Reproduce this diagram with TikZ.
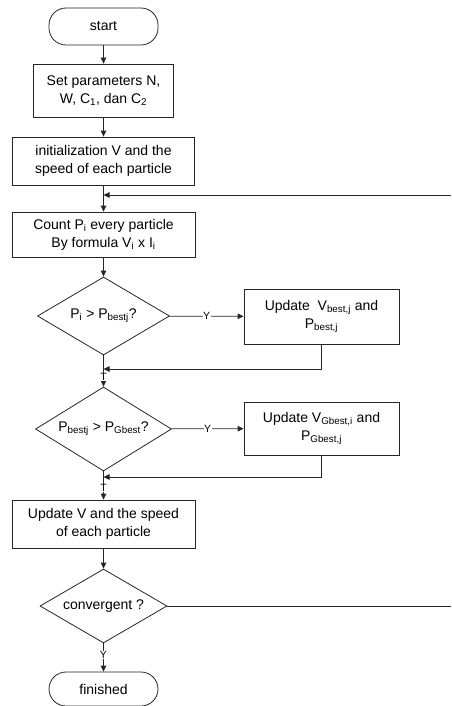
\documentclass[tikz,border=0pt]{standalone}
\usepackage{fontspec}
\setmainfont{Liberation Sans}
\usetikzlibrary{shapes.geometric,arrows.meta}
\tikzset{
  base/.style={draw=black!85, line width=0.8pt, align=center, font=\fontsize{14}{18}\selectfont, inner sep=2pt},
  procbox/.style={base, rectangle},
  termbox/.style={base, rectangle, rounded corners=17pt},
  decbox/.style={base, diamond, inner sep=0pt},
  conn/.style={draw=black!85, line width=0.8pt},
  arr/.style={conn, -{Triangle[length=6pt,width=5.5pt]}},
  lab/.style={fill=white, inner sep=0.5pt, font=\fontsize{10.5}{11}\selectfont}
}
\begin{document}
\begin{tikzpicture}[x=1pt,y=-1pt]
\useasboundingbox (0,0) rectangle (451,706);
\node[termbox, minimum width=109pt, minimum height=37pt] (start) at (103.5,26.5) {start};
\node[procbox, minimum width=140pt, minimum height=53pt] (set) at (103.5,90.5) {Set parameters N,\\W, C\textsubscript{1}, dan C\textsubscript{2}};
\node[procbox, minimum width=182pt, minimum height=48pt] (init) at (103.5,161) {initialization V and the\\speed of each particle};
\node[procbox, minimum width=183pt, minimum height=45pt] (count) at (103.5,234.5) {Count P\textsubscript{i} every particle\\By formula V\textsubscript{i} x I\textsubscript{i}};
\node[decbox, minimum width=132pt, minimum height=78pt] (d1) at (103.5,316) {\makebox[0pt]{P\textsubscript{i} > P\textsubscript{bestj}?}};
\node[procbox, minimum width=155pt, minimum height=55pt] (b1) at (321.5,316.5) {Update\ \ V\textsubscript{best,j} and\\P\textsubscript{best,j}};
\node[decbox, minimum width=136pt, minimum height=84pt] (d2) at (103.5,429) {\makebox[0pt]{P\textsubscript{bestj} > P\textsubscript{Gbest}?}};
\node[procbox, minimum width=155pt, minimum height=53pt] (b2) at (321.5,428.5) {Update V\textsubscript{Gbest,i} and\\P\textsubscript{Gbest,j}};
\node[procbox, minimum width=183pt, minimum height=48pt] (upd) at (103.5,524) {Update V and the speed\\of each particle};
\node[decbox, minimum width=127pt, minimum height=74pt] (d3) at (103.5,606) {\makebox[0pt]{convergent ?}};
\node[termbox, minimum width=109pt, minimum height=34pt] (fin) at (103.5,689) {finished};

\coordinate (loopin) at (451,195);
\coordinate (j0) at (103.5,195);
\coordinate (j1) at (103.5,369);
\coordinate (j2) at (103.5,477);
\coordinate (convout) at (451,606);

\draw[arr] (start) -- (set);
\draw[arr] (set) -- (init);
\draw[arr] (init) -- (count);
\draw[arr] (loopin) -- (j0);
\draw[arr] (count) -- (d1);
\draw[arr] (d1) -- node[lab, pos=0.5]{Y} (b1);
\draw[arr] (b1.south) |- (j1);
\draw[arr] (d1.south) -- node[lab, pos=0.68]{T} (d2.north);
\draw[arr] (d2) -- node[lab, pos=0.5]{Y} (b2);
\draw[arr] (b2.south) |- (j2);
\draw[arr] (d2.south) -- node[lab, pos=0.6]{T} (upd.north);
\draw[arr] (upd) -- (d3);
\draw[conn] (d3.east) -- (convout);
\draw[arr] (d3.south) -- node[lab, pos=0.42]{Y} (fin.north);
\end{tikzpicture}
\end{document}
